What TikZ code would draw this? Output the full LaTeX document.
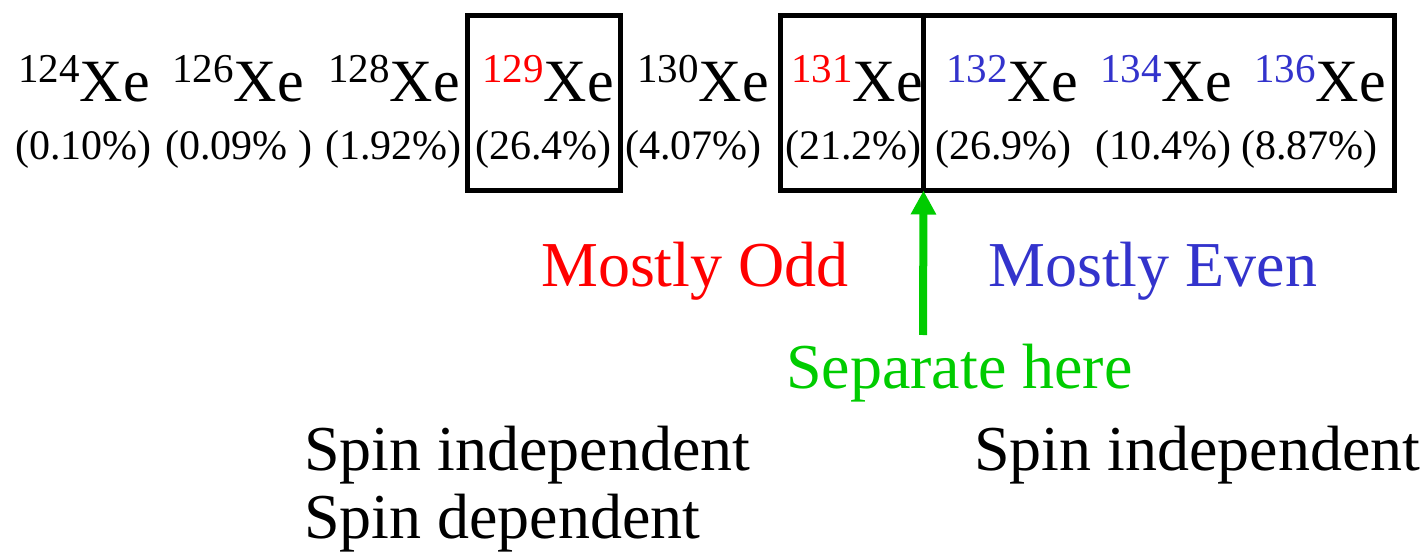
\documentclass[tikz,border=0pt]{standalone}
\usepackage{fontspec}
\setmainfont{LiberationSerif}[Extension=.ttf, UprightFont=*-Regular, BoldFont=*-Bold, ItalicFont=*-Italic]
\usetikzlibrary{arrows.meta}
\definecolor{oddred}{RGB}{255,0,0}
\definecolor{evenblue}{RGB}{51,51,204}
\definecolor{sepgreen}{RGB}{0,204,0}
\newcommand{\iso}[2][black]{{\fontsize{41}{41}\selectfont\raisebox{19pt}{\textcolor{#1}{#2}}}Xe}
\tikzset{
  isolabel/.style={anchor=base west, inner sep=0pt, font=\fontsize{60}{60}\selectfont},
  pctlabel/.style={anchor=base west, inner sep=0pt, font=\fontsize{42}{42}\selectfont},
  biglabel/.style={anchor=base west, inner sep=0pt, font=\fontsize{64}{64}\selectfont},
  groupbox/.style={draw=black, line width=5pt, inner sep=0pt, outer sep=0pt},
  separrow/.style={draw=sepgreen, line width=8pt, -{Triangle[width=24pt,length=24pt]}}
}
\begin{document}
\begin{tikzpicture}[x=1pt,y=-1pt]
\useasboundingbox (0,0) rectangle (1427,556);
% isotopes
\node[isolabel] (x124) at (18,102) {\iso{124}};
\node[isolabel] (x126) at (172,102) {\iso{126}};
\node[isolabel] (x128) at (328,102) {\iso{128}};
\node[isolabel] (x129) at (482,102) {\iso[oddred]{129}};
\node[isolabel] (x130) at (637,102) {\iso{130}};
\node[isolabel] (x131) at (791,102) {\iso[oddred]{131}};
\node[isolabel] (x132) at (946,102) {\iso[evenblue]{132}};
\node[isolabel] (x134) at (1100,102) {\iso[evenblue]{134}};
\node[isolabel] (x136) at (1254,102) {\iso[evenblue]{136}};
% abundances
\node[pctlabel] (p124) at (15,160) {(0.10\%)};
\node[pctlabel] (p126) at (165,160) {(0.09\% )};
\node[pctlabel] (p128) at (325,160) {(1.92\%)};
\node[pctlabel] (p129) at (475,160) {(26.4\%)};
\node[pctlabel] (p130) at (625,160) {(4.07\%)};
\node[pctlabel] (p131) at (785,160) {(21.2\%)};
\node[pctlabel] (p132) at (935,160) {(26.9\%)};
\node[pctlabel] (p134) at (1095,160) {(10.4\%)};
\node[pctlabel] (p136) at (1241,160) {(8.87\%)};
% boxes
\node[groupbox, minimum width=153pt, minimum height=175pt] (box1) at (544,103) {};
\node[groupbox, minimum width=143pt, minimum height=175pt] (box2) at (852,103) {};
\node[groupbox, minimum width=470.5pt, minimum height=175pt] (box3) at (1158.75,103) {};
% labels
\node[biglabel, text=oddred] (odd) at (541,287) {Mostly Odd};
\node[biglabel, text=evenblue] (even) at (988,287) {Mostly Even};
\node[biglabel, text=sepgreen] (sep) at (786,388) {Separate here};
\node[biglabel] (si1) at (304,470) {Spin independent};
\node[biglabel] (sd1) at (304,538) {Spin dependent};
\node[biglabel] (si2) at (974,470) {Spin independent};
% arrow
\coordinate (arrowtail) at (923,335);
\draw[separrow] (arrowtail) -- (box3.south west);
\end{tikzpicture}
\end{document}
